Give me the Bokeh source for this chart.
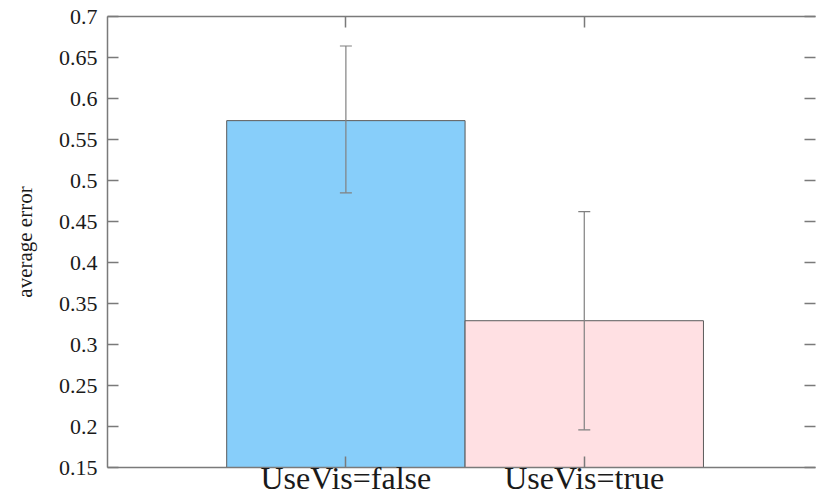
from bokeh.plotting import figure
from bokeh.models import (ColumnDataSource, Range1d, FixedTicker, LinearAxis,
                          Whisker, TeeHead)
from bokeh.embed import file_html
from bokeh.resources import INLINE

# ---- data ----
categories = ["UseVis=false", "UseVis=true"]
values = [0.573, 0.329]
err_low = [0.485, 0.196]
err_high = [0.664, 0.462]
bar_colors = ["#87CEFA", "#FFE0E3"]
y_ticks = [0.15, 0.2, 0.25, 0.3, 0.35, 0.4, 0.45, 0.5, 0.55, 0.6, 0.65, 0.7]
y_tick_labels = ["0.15", "0.2", "0.25", "0.3", "0.35", "0.4", "0.45", "0.5",
                 "0.55", "0.6", "0.65", "0.7"]

xpos = [i + 1 for i in range(len(categories))]
src = ColumnDataSource(dict(x=xpos, top=values, lower=err_low, upper=err_high,
                            color=bar_colors, cat=categories))

FONT = "Times New Roman"
AXC = "#7a7a7a"

p = figure(width=817, height=498, output_backend="svg", toolbar_location=None,
           x_range=Range1d(0, 2.97), y_range=Range1d(y_ticks[0], y_ticks[-1]),
           min_border_left=107, min_border_top=16, min_border_right=2,
           min_border_bottom=31, y_axis_location=None, x_axis_location=None)
p.outline_line_color = None
p.grid.visible = False
p.background_fill_color = "white"
p.border_fill_color = "white"

p.vbar(x="x", top="top", bottom=0, width=1.0, source=src, fill_color="color",
       line_color="#5a5a5a", line_width=1)

head_kw = dict(size=12, line_color="#808080", line_width=1.2)
w = Whisker(base="x", lower="lower", upper="upper", source=src,
            line_color="#808080", line_width=1.2, level="overlay",
            upper_head=TeeHead(**head_kw), lower_head=TeeHead(**head_kw))
p.add_layout(w)

def style_axis(ax):
    ax.axis_line_color = AXC
    ax.axis_line_width = 1.5
    ax.major_tick_line_color = AXC
    ax.major_tick_line_width = 1.5
    ax.major_tick_in = 11
    ax.major_tick_out = 0
    ax.minor_tick_line_color = None
    ax.major_label_text_font = FONT
    ax.major_label_text_font_style = "normal"
    ax.major_label_text_color = "#1a1a1a"

yt = FixedTicker(ticks=y_ticks)
xt = FixedTicker(ticks=xpos)

left = LinearAxis(ticker=yt, axis_label="average error")
style_axis(left)
left.major_label_overrides = {t: l for t, l in zip(y_ticks, y_tick_labels)}
left.major_label_text_font_size = "22px"
left.major_label_standoff = 10
left.axis_label_text_font = FONT
left.axis_label_text_font_style = "normal"
left.axis_label_text_font_size = "21px"
left.axis_label_text_color = "#1a1a1a"
left.axis_label_standoff = 19
p.add_layout(left, "left")

bottom = LinearAxis(ticker=xt)
style_axis(bottom)
bottom.major_label_overrides = {x: c for x, c in zip(xpos, categories)}
bottom.major_label_text_font_size = "32px"
bottom.major_label_standoff = -8
p.add_layout(bottom, "below")

top = LinearAxis(ticker=xt)
style_axis(top)
top.major_label_overrides = {x: "" for x in xpos}
top.major_label_standoff = 0
p.add_layout(top, "above")

right = LinearAxis(ticker=yt)
style_axis(right)
right.axis_line_color = None
right.major_label_overrides = {t: "" for t in y_ticks}
right.major_label_standoff = 0
p.add_layout(right, "right")

open("out.html", "w").write(file_html(p, INLINE))
